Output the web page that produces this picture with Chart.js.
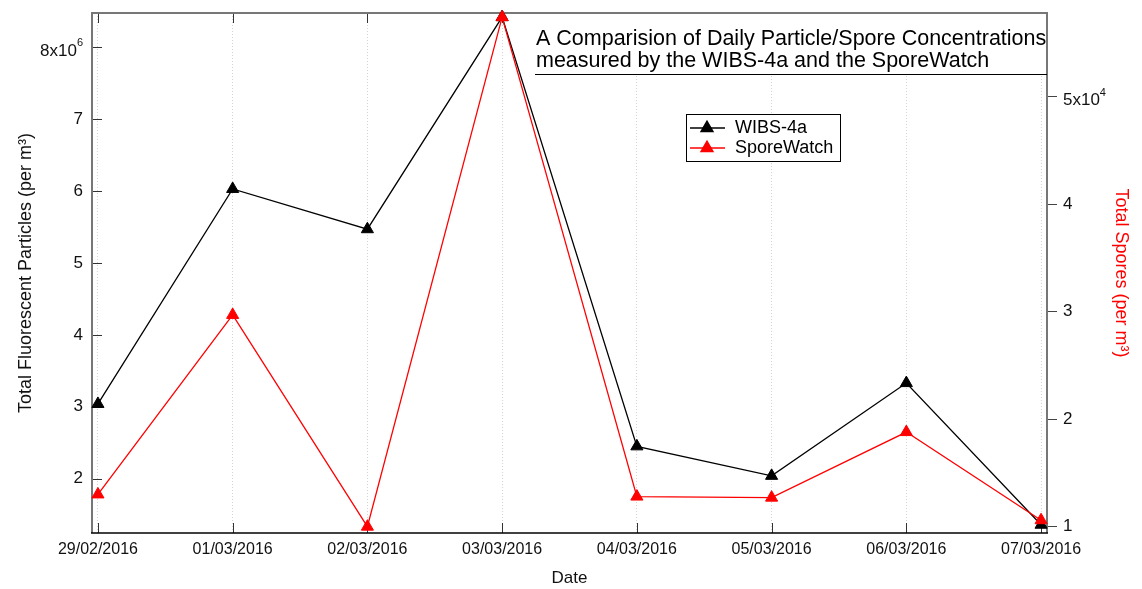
<!DOCTYPE html>
<html>
<head>
<meta charset="utf-8">
<script src="https://cdn.jsdelivr.net/npm/chart.js@4.4.1/dist/chart.umd.min.js"></script>
<style>
  html, body { margin: 0; padding: 0; background: #fff; }
</style>
</head>
<body>
<canvas id="sporeChart" width="1142" height="589"></canvas>
<script>
const FONT = "'Liberation Sans', Arial, sans-serif";

const dates = ['29/02/2016', '01/03/2016', '02/03/2016', '03/03/2016', '04/03/2016', '05/03/2016', '06/03/2016', '07/03/2016'];
const wibsParticles = [3.04e6, 6.03e6, 5.47e6, 8.42e6, 2.45e6, 2.04e6, 3.33e6, 1.36e6];
const sporeWatch = [1.30e4, 2.97e4, 1.00e4, 5.74e4, 1.28e4, 1.27e4, 1.88e4, 1.06e4];
const leftTicks = [2e6, 3e6, 4e6, 5e6, 6e6, 7e6, 8e6];
const rightTicks = [1e4, 2e4, 3e4, 4e4, 5e4];
const titleLines = ['A Comparision of Daily Particle/Spore Concentrations', 'measured by the WIBS-4a and the SporeWatch'];

// frame + inward tick marks, drawn under the lines
const frame = {
  id: 'frame',
  beforeDatasetsDraw(chart) {
    const { ctx, chartArea: a, scales } = chart;
    ctx.save();
    ctx.strokeStyle = '#333';
    ctx.lineWidth = 1;
    ctx.beginPath();
    dates.forEach((d, i) => {
      const px = Math.round(scales.x.getPixelForValue(i)) + 0.5;
      ctx.moveTo(px, a.bottom); ctx.lineTo(px, a.bottom - 10);
      ctx.moveTo(px, a.top); ctx.lineTo(px, a.top + 10);
    });
    leftTicks.forEach(v => {
      const py = Math.round(scales.y.getPixelForValue(v)) + 0.5;
      ctx.moveTo(a.left, py); ctx.lineTo(a.left + 10, py);
    });
    ctx.stroke();

    ctx.strokeStyle = '#777';
    ctx.lineWidth = 2;
    ctx.beginPath();
    ctx.moveTo(a.left, a.bottom); ctx.lineTo(a.left, a.top);
    ctx.lineTo(a.right, a.top); ctx.lineTo(a.right, a.bottom);
    ctx.stroke();
    ctx.strokeStyle = '#000';
    ctx.lineWidth = 1.5;
    ctx.beginPath();
    ctx.moveTo(a.left - 1, a.bottom); ctx.lineTo(a.right + 1, a.bottom);
    ctx.stroke();
    ctx.restore();
  }
};

// title box, legend and the exponent tick labels
const overlay = {
  id: 'overlay',
  afterDatasetsDraw(chart) {
    const { ctx, chartArea: a, scales } = chart;
    ctx.save();

    // title box
    ctx.fillStyle = '#fff';
    ctx.fillRect(535, a.top + 1, a.right - 536, 74 - a.top - 1);
    ctx.fillStyle = '#000';
    ctx.font = '21.5px ' + FONT;
    ctx.textAlign = 'left';
    ctx.textBaseline = 'alphabetic';
    ctx.fillText(titleLines[0], 536, 45);
    ctx.fillText(titleLines[1], 536, 67);
    ctx.strokeStyle = '#000';
    ctx.lineWidth = 1;
    ctx.beginPath();
    ctx.moveTo(535, 74.5); ctx.lineTo(a.right, 74.5);
    ctx.stroke();

    // legend
    ctx.fillStyle = '#fff';
    ctx.fillRect(686, 114, 155, 48);
    ctx.strokeRect(686.5, 114.5, 154, 47);
    ctx.font = '18px ' + FONT;
    ctx.textBaseline = 'middle';
    chart.data.datasets.forEach((ds, i) => {
      const ly = 128 + i * 20;
      ctx.strokeStyle = ds.borderColor;
      ctx.fillStyle = ds.backgroundColor;
      ctx.lineWidth = 1.3;
      ctx.beginPath();
      ctx.moveTo(690, ly); ctx.lineTo(725, ly);
      ctx.stroke();
      Chart.helpers.drawPoint(ctx, { pointStyle: 'triangle', radius: 7, borderWidth: 1 }, 707, ly);
      ctx.fillStyle = '#000';
      ctx.fillText(ds.label, 735, ly);
    });

    // "8x10^6" and "5x10^4"
    ctx.fillStyle = '#111';
    const yTop = scales.y.getPixelForValue(8e6) + 4;
    ctx.font = '11px ' + FONT;
    const sw = ctx.measureText('6').width;
    ctx.textAlign = 'right';
    ctx.fillText('6', 83, yTop - 8);
    ctx.font = '17px ' + FONT;
    ctx.fillText('8x10', 83 - sw, yTop);

    const yR = scales.y2.getPixelForValue(5e4) + 4;
    ctx.textAlign = 'left';
    ctx.fillText('5x10', 1063, yR);
    const w = ctx.measureText('5x10').width;
    ctx.font = '11px ' + FONT;
    ctx.fillText('4', 1063 + w, yR - 8);
    ctx.restore();
  }
};

function fixWidth(width) {
  return s => { s.width = width; s.paddingTop = 0; s.paddingBottom = 0; };
}

const ctx = document.getElementById('sporeChart').getContext('2d');
const chart = new Chart(ctx, {
  type: 'line',
  data: {
    datasets: [{
      label: 'WIBS-4a',
      data: wibsParticles.map((v, i) => ({ x: i, y: v })),
      yAxisID: 'y',
      borderColor: '#000',
      backgroundColor: '#000',
      borderWidth: 1.3,
      pointStyle: 'triangle',
      pointRadius: 7,
      pointBorderWidth: 1,
      tension: 0,
      clip: false,
      order: 1
    }, {
      label: 'SporeWatch',
      data: sporeWatch.map((v, i) => ({ x: i, y: v })),
      yAxisID: 'y2',
      borderColor: '#ff0000',
      backgroundColor: '#ff0000',
      borderWidth: 1.3,
      pointStyle: 'triangle',
      pointRadius: 7,
      pointBorderWidth: 1,
      tension: 0,
      clip: false,
      order: 0
    }]
  },
  options: {
    responsive: false,
    animation: false,
    layout: { padding: { top: 13, left: 0, right: 0, bottom: 0 } },
    plugins: { legend: { display: false }, tooltip: { enabled: false } },
    scales: {
      x: {
        type: 'linear',
        position: 'bottom',
        min: -0.044,
        max: 7.044,
        afterBuildTicks: s => { s.ticks = dates.map((d, i) => ({ value: i })); },
        afterFit: s => { s.height = 56; },
        ticks: { callback: v => dates[v], color: '#111', font: { family: FONT, size: 16 }, padding: 7, maxRotation: 0, autoSkip: false },
        grid: { display: true, drawOnChartArea: true, drawTicks: false, color: '#d4d4d4', lineWidth: 1 },
        border: { display: false, dash: [1, 2] },
        title: { display: true, text: 'Date', color: '#111', font: { family: FONT, size: 17 }, padding: { top: 0, bottom: 0 } }
      },
      y: {
        position: 'left',
        min: 1.245e6,
        max: 8.477e6,
        afterBuildTicks: s => { s.ticks = leftTicks.map(v => ({ value: v })); },
        afterFit: fixWidth(92),
        ticks: { callback: v => v === 8e6 ? '' : String(v / 1e6), color: '#111', font: { family: FONT, size: 17 }, padding: 9 },
        grid: { display: false, drawTicks: false },
        border: { display: false },
        title: { display: true, text: 'Total Fluorescent Particles (per m³)', color: '#111', font: { family: FONT, size: 18 }, padding: { top: 15 } }
      },
      y2: {
        position: 'right',
        min: 0.941e4,
        max: 5.779e4,
        afterBuildTicks: s => { s.ticks = rightTicks.map(v => ({ value: v })); },
        afterFit: fixWidth(95),
        ticks: { callback: v => v === 5e4 ? '' : String(v / 1e4), color: '#111', font: { family: FONT, size: 17 }, padding: 6 },
        grid: { display: true, drawOnChartArea: false, drawTicks: true, tickLength: 10, color: '#444' },
        border: { display: false },
        title: { display: true, text: 'Total Spores (per m³)', color: '#ff0000', font: { family: FONT, size: 18 }, padding: { top: 10 } }
      }
    }
  },
  plugins: [frame, overlay]
});
</script>
</body>
</html>
